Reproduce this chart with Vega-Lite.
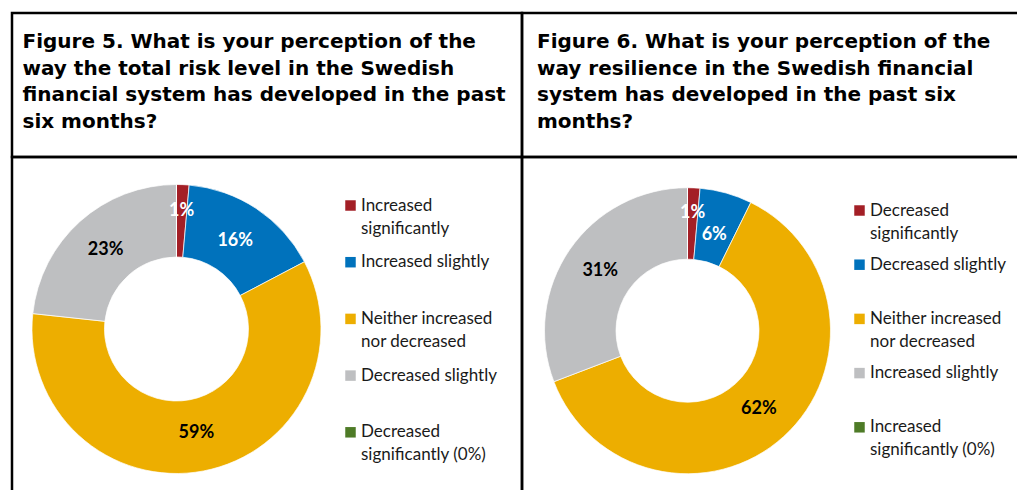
{
  "$schema": "https://vega.github.io/schema/vega-lite/v6.json",
  "padding": {"left": 10, "top": 11, "right": 0, "bottom": 0},
  "background": "white",
  "bounds": "flush",
  "columns": 2,
  "spacing": 0,
  "config": {
    "view": {"stroke": "black", "strokeWidth": 2.5},
    "font": "Lato",
    "style": {"guide-label": {"lineHeight": 23}}
  },
  "datasets": {
    "fig5": [
      {"figure": "Figure 5", "category": "Increased significantly", "value": 0.014},
      {"figure": "Figure 5", "category": "Increased slightly", "value": 0.159},
      {"figure": "Figure 5", "category": "Neither increased nor decreased", "value": 0.594},
      {"figure": "Figure 5", "category": "Decreased slightly", "value": 0.233},
      {"figure": "Figure 5", "category": "Decreased significantly (0%)", "value": 0}
    ],
    "fig6": [
      {"figure": "Figure 6", "category": "Decreased significantly", "value": 0.014},
      {"figure": "Figure 6", "category": "Decreased slightly", "value": 0.059},
      {"figure": "Figure 6", "category": "Neither increased nor decreased", "value": 0.619},
      {"figure": "Figure 6", "category": "Increased slightly", "value": 0.308},
      {"figure": "Figure 6", "category": "Increased significantly (0%)", "value": 0}
    ],
    "blank": [{}]
  },
  "resolve": {"scale": {"color": "independent", "x": "independent", "y": "independent"}, "legend": {"color": "independent"}},
  "concat": [
    {
      "width": 510, "height": 144,
      "view": {"stroke": "black", "strokeWidth": 2.5},
      "data": {"name": "blank"},
      "mark": {"type": "text"},
      "encoding": {"text": {"value": ""}},
      "title": {
        "text": ["Figure 5. What is your perception of the", "way the total risk level in the Swedish", "financial system has developed in the past", "six months?"],
        "anchor": "start", "orient": "top", "frame": "group",
        "font": "DejaVu Sans", "fontSize": 20, "fontWeight": "bold", "color": "black",
        "lineHeight": 26.7, "offset": -119, "dx": 10.5
      }
    },
    {
      "width": 500, "height": 144,
      "view": {"stroke": "black", "strokeWidth": 2.5},
      "data": {"name": "blank"},
      "mark": {"type": "text"},
      "encoding": {"text": {"value": ""}},
      "title": {
        "text": ["Figure 6. What is your perception of the", "way resilience in the Swedish financial", "system has developed in the past six", "months?"],
        "anchor": "start", "orient": "top", "frame": "group",
        "font": "DejaVu Sans", "fontSize": 20, "fontWeight": "bold", "color": "black",
        "lineHeight": 26.7, "offset": -119, "dx": 15
      }
    },
    {
      "width": 510, "height": 344,
      "data": {"name": "fig5"},
      "transform": [{"window": [{"op": "row_number", "as": "rank"}]}],
      "encoding": {
        "theta": {"field": "value", "type": "quantitative", "stack": true},
        "order": {"field": "rank", "type": "quantitative"},
        "x": {"field": "figure", "type": "nominal", "axis": null, "scale": {"type": "point", "align": 0.3225}},
        "y": {"field": "figure", "type": "nominal", "axis": null, "scale": {"type": "point", "align": 0.5}},
        "color": {
          "field": "category", "type": "nominal",
          "scale": {
            "domain": ["Increased significantly", "Increased slightly", "Neither increased nor decreased", "Decreased slightly", "Decreased significantly (0%)"],
            "range": ["#A31F26", "#0072BC", "#EDAE00", "#BEBFC1", "#4E7B27"]
          },
          "legend": {
            "orient": "none", "legendX": 330, "legendY": 40, "padding": 0,
            "title": null, "symbolType": "square", "symbolSize": 110, "symbolStrokeWidth": 0, "symbolOpacity": 1,
            "labelFont": "Lato", "labelFontSize": 17, "labelColor": "#1a1a1a", "labelLimit": 300, "labelOffset": 2,
            "rowPadding": 15.7,
            "labelExpr": "indexof(datum.label, ' significantly') > 0 ? [substring(datum.label, 0, indexof(datum.label, ' significantly')), substring(datum.label, indexof(datum.label, ' significantly') + 1)] : indexof(datum.label, ' nor ') > 0 ? [substring(datum.label, 0, indexof(datum.label, ' nor ')), substring(datum.label, indexof(datum.label, ' nor ') + 1)] : [datum.label, '']"
          }
        }
      },
      "layer": [
        {"mark": {"type": "arc", "innerRadius": 72, "outerRadius": 144.5, "stroke": "white", "strokeWidth": 0.7}},
        {
          "mark": {"type": "text", "font": "Lato", "fontWeight": "bold", "fontSize": 18},
          "encoding": {
            "radius": {"field": "value", "type": "quantitative", "scale": {"type": "linear", "domain": [0.014, 0.059, 0.159], "range": [118, 99, 106], "clamp": true, "zero": false, "nice": false}},
            "text": {"condition": {"test": "datum.value > 0", "field": "value", "type": "quantitative", "format": ".0%"}, "value": ""},
            "color": {"condition": {"test": "datum.category == 'Increased significantly' || datum.category == 'Increased slightly'", "value": "white"}, "value": "black"}
          }
        }
      ]
    },
    {
      "width": 500, "height": 344,
      "data": {"name": "fig6"},
      "transform": [{"window": [{"op": "row_number", "as": "rank"}]}],
      "encoding": {
        "theta": {"field": "value", "type": "quantitative", "stack": true},
        "order": {"field": "rank", "type": "quantitative"},
        "x": {"field": "figure", "type": "nominal", "axis": null, "scale": {"type": "point", "align": 0.331}},
        "y": {"field": "figure", "type": "nominal", "axis": null, "scale": {"type": "point", "align": 0.505}},
        "color": {
          "field": "category", "type": "nominal",
          "scale": {
            "domain": ["Decreased significantly", "Decreased slightly", "Neither increased nor decreased", "Increased slightly", "Increased significantly (0%)"],
            "range": ["#A31F26", "#0072BC", "#EDAE00", "#BEBFC1", "#4E7B27"]
          },
          "legend": {
            "orient": "none", "legendX": 329, "legendY": 45, "padding": 0,
            "title": null, "symbolType": "square", "symbolSize": 110, "symbolStrokeWidth": 0, "symbolOpacity": 1,
            "labelFont": "Lato", "labelFontSize": 17, "labelColor": "#1a1a1a", "labelLimit": 300, "labelOffset": 2,
            "rowPadding": 13.2,
            "labelExpr": "indexof(datum.label, ' significantly') > 0 ? [substring(datum.label, 0, indexof(datum.label, ' significantly')), substring(datum.label, indexof(datum.label, ' significantly') + 1)] : indexof(datum.label, ' nor ') > 0 ? [substring(datum.label, 0, indexof(datum.label, ' nor ')), substring(datum.label, indexof(datum.label, ' nor ') + 1)] : [datum.label, '']"
          }
        }
      },
      "layer": [
        {"mark": {"type": "arc", "innerRadius": 71.5, "outerRadius": 143, "stroke": "white", "strokeWidth": 0.7}},
        {
          "mark": {"type": "text", "font": "Lato", "fontWeight": "bold", "fontSize": 18},
          "encoding": {
            "radius": {"field": "value", "type": "quantitative", "scale": {"type": "linear", "domain": [0.014, 0.059, 0.159], "range": [118, 99, 106], "clamp": true, "zero": false, "nice": false}},
            "text": {"condition": {"test": "datum.value > 0", "field": "value", "type": "quantitative", "format": ".0%"}, "value": ""},
            "color": {"condition": {"test": "datum.category == 'Decreased significantly' || datum.category == 'Decreased slightly'", "value": "white"}, "value": "black"}
          }
        }
      ]
    }
  ]
}
